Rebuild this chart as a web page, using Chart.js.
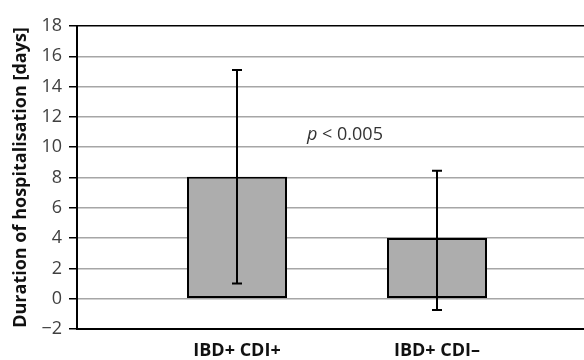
<!DOCTYPE html>
<html lang="en">
<head>
  <meta charset="UTF-8">
  <title>Duration of hospitalisation</title>
  <script src="https://cdn.jsdelivr.net/npm/chart.js"></script>
  <style>
    body { margin: 0; background: #fff; }
    canvas { display: block; }
  </style>
</head>
<body>
  <canvas id="chart" width="584" height="360"></canvas>

  <script>
    const groups = ['IBD+ CDI+', 'IBD+ CDI\u2013'];
    const means = [8.05, 4.0];
    const upper = [15.1, 8.45];
    const lower = [1.0, -0.75];
    const yTicks = [-2, 0, 2, 4, 6, 8, 10, 12, 14, 16, 18];
    const note = { x: 1.35, y: 10.5, italic: 'p', rest: ' < 0.005' };

    const FONT = '"Open Sans", sans-serif';

    // error bars + p-value label, positioned through the scales
    const extras = {
      id: 'extras',
      afterDatasetsDraw(chart) {
        const { ctx, scales: { x, y } } = chart;
        ctx.save();
        ctx.strokeStyle = '#000';
        ctx.lineWidth = 2;
        means.forEach((m, i) => {
          const px = x.getPixelForValue(i + 1);
          const top = y.getPixelForValue(upper[i]);
          const bot = y.getPixelForValue(lower[i]);
          ctx.beginPath();
          ctx.moveTo(px, top); ctx.lineTo(px, bot);
          ctx.moveTo(px - 5, top); ctx.lineTo(px + 5, top);
          ctx.moveTo(px - 5, bot); ctx.lineTo(px + 5, bot);
          ctx.stroke();
        });

        const nx = x.getPixelForValue(note.x);
        const ny = y.getPixelForValue(note.y);
        ctx.fillStyle = '#333';
        ctx.textBaseline = 'alphabetic';
        ctx.font = 'italic 18px ' + FONT;
        ctx.fillText(note.italic, nx, ny);
        const w = ctx.measureText(note.italic).width;
        ctx.font = '18px ' + FONT;
        ctx.fillText(note.rest, nx + w, ny);
        ctx.restore();
      }
    };

    new Chart(document.getElementById('chart'), {
      type: 'bar',
      data: {
        datasets: [{
          data: means.map((m, i) => ({ x: i + 1, y: m })),
          backgroundColor: '#adadad',
          borderColor: '#000',
          borderWidth: 2,
          borderSkipped: false,
          barPercentage: 0.5,
          categoryPercentage: 1.0
        }]
      },
      options: {
        responsive: false,
        animation: false,
        layout: { padding: { top: 26, right: 0, left: 0, bottom: 0 } },
        plugins: { legend: { display: false }, tooltip: { enabled: false } },
        scales: {
          x: {
            type: 'linear',
            min: 0.2,
            max: 2.735,
            offset: false,
            grid: { display: false, drawTicks: false, offset: false },
            border: { color: '#000', width: 2 },
            afterBuildTicks: s => { s.ticks = groups.map((g, i) => ({ value: i + 1 })); },
            afterFit: s => { s.height = 31; },
            ticks: {
              autoSkip: false,
              maxRotation: 0,
              padding: 11,
              color: '#111',
              font: { family: FONT, size: 18, weight: 'bold' },
              callback: v => groups[v - 1] || ''
            }
          },
          y: {
            min: -2,
            max: 18,
            afterBuildTicks: s => { s.ticks = yTicks.map(v => ({ value: v })); },
            afterFit: s => { s.width = 77; },
            grid: {
              color: c => (c.tick && c.tick.value === 18) ? '#000' : '#a6a6a6',
              lineWidth: 1.5,
              tickColor: '#000',
              tickLength: 8
            },
            border: { color: '#000', width: 2 },
            ticks: {
              padding: 7,
              color: '#404040',
              font: { family: FONT, size: 18 },
              callback: v => v < 0 ? '\u2212' + Math.abs(v) : String(v)
            },
            title: {
              display: true,
              text: 'Duration of hospitalisation [days]',
              color: '#111',
              padding: { top: 10, bottom: 0 },
              font: { family: FONT, size: 18, weight: 'bold' }
            }
          }
        }
      },
      plugins: [extras]
    });
  </script>
</body>
</html>
